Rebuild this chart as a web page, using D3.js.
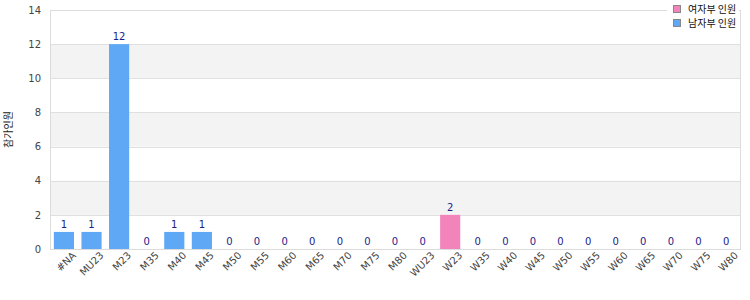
<!DOCTYPE html>
<html>
<head>
<meta charset="utf-8">
<script src="https://cdn.jsdelivr.net/npm/d3@7"></script>
<style>
  body { margin: 0; background: #fff; }
  text { font-family: "DejaVu Sans", Verdana, "Noto Sans CJK KR", sans-serif; }
  .kr { font-family: "Noto Sans CJK KR", sans-serif; }
</style>
</head>
<body>
<svg id="area" width="750" height="300"></svg>
<script>
const categories = ['#NA', 'MU23', 'M23', 'M35', 'M40', 'M45', 'M50', 'M55', 'M60', 'M65', 'M70', 'M75', 'M80',
  'WU23', 'W23', 'W35', 'W40', 'W45', 'W50', 'W55', 'W60', 'W65', 'W70', 'W75', 'W80'];
const counts = [1, 1, 12, 0, 1, 1, 0, 0, 0, 0, 0, 0, 0, 0, 2, 0, 0, 0, 0, 0, 0, 0, 0, 0, 0];
const seriesNames = ['여자부 인원', '남자부 인원'];
const seriesColors = ['#f383bb', '#5fa8f5'];
const yTicks = [0, 2, 4, 6, 8, 10, 12, 14];
const yTitle = '참가인원';

const data = categories.map((c, i) => ({
  cat: c,
  value: counts[i],
  series: c.startsWith('W') ? 0 : 1,
}));

const margin = {
  top: 10, right: 10, bottom: 51, left: 50,
};
const width = 750 - margin.left - margin.right;
const height = 300 - margin.top - margin.bottom;
const svg = d3.select('#area');
const g = svg.append('g').attr('transform', `translate(${margin.left},${margin.top})`);

const x = d3.scaleBand()
  .domain(categories)
  .range([0, width])
  .paddingInner(0.27)
  .paddingOuter(0.14);
const y = d3.scaleLinear().domain([0, 14]).range([height, 0]);

// alternating bands
d3.range(0, yTicks.length - 1).forEach((i) => {
  if (i % 2 === 1) {
    g.append('rect')
      .attr('x', 0)
      .attr('y', y(yTicks[i + 1]))
      .attr('width', width)
      .attr('height', y(yTicks[i]) - y(yTicks[i + 1]))
      .attr('fill', '#f3f3f3');
  }
});

g.selectAll('line.grid')
  .data(yTicks)
  .enter().append('line')
  .attr('class', 'grid')
  .attr('x1', 0)
  .attr('x2', width)
  .attr('y1', (d) => Math.round(y(d)) + 0.5)
  .attr('y2', (d) => Math.round(y(d)) + 0.5)
  .attr('stroke', '#e0e0e0');

g.append('rect')
  .attr('x', 0.5)
  .attr('y', 0.5)
  .attr('width', width)
  .attr('height', height)
  .attr('fill', 'none')
  .attr('stroke', '#dcdcdc');

g.selectAll('rect.bar')
  .data(data)
  .enter().append('rect')
  .attr('class', 'bar')
  .attr('x', (d) => x(d.cat))
  .attr('y', (d) => y(d.value))
  .attr('width', x.bandwidth())
  .attr('height', (d) => height - y(d.value))
  .attr('fill', (d) => seriesColors[d.series]);

g.selectAll('text.val')
  .data(data)
  .enter().append('text')
  .attr('class', 'val')
  .attr('x', (d) => x(d.cat) + x.bandwidth() / 2)
  .attr('y', (d) => y(d.value) - 4)
  .attr('text-anchor', 'middle')
  .attr('font-size', 10)
  .attr('fill', '#1c1c8a')
  .text((d) => d.value);

const yAxis = d3.axisLeft(y).tickValues(yTicks).tickSize(0).tickPadding(9);
g.append('g')
  .attr('class', 'y axis')
  .call(yAxis)
  .call((s) => s.select('.domain').remove())
  .selectAll('text')
  .attr('font-size', 10)
  .attr('fill', '#444');

const xAxis = d3.axisBottom(x).tickSize(0).tickPadding(7);
g.append('g')
  .attr('class', 'x axis')
  .attr('transform', `translate(0, ${height})`)
  .call(xAxis)
  .call((s) => s.select('.domain').remove())
  .selectAll('text')
  .attr('font-size', 10)
  .attr('fill', '#444')
  .style('text-anchor', 'end')
  .attr('dx', '0.4em')
  .attr('dy', '0.7em')
  .attr('transform', 'rotate(-45)');

svg.append('text')
  .attr('class', 'kr')
  .attr('transform', `translate(12, ${margin.top + height / 2}) rotate(-90)`)
  .attr('text-anchor', 'middle')
  .attr('font-size', 10)
  .attr('fill', '#222')
  .text(yTitle);

// legend
const legend = svg.append('g').attr('transform', 'translate(667, 0)');
legend.append('rect')
  .attr('x', 0).attr('y', 0).attr('width', 72).attr('height', 32)
  .attr('fill', '#fff');
seriesNames.forEach((name, i) => {
  legend.append('rect')
    .attr('x', 6.5)
    .attr('y', 5.5 + i * 14)
    .attr('width', 7)
    .attr('height', 7)
    .attr('fill', seriesColors[i])
    .attr('stroke', '#888');
  legend.append('text')
    .attr('class', 'kr')
    .attr('x', 21)
    .attr('y', 13 + i * 14)
    .attr('font-size', 10)
    .attr('fill', '#111')
    .text(name);
});
</script>
</body>
</html>
